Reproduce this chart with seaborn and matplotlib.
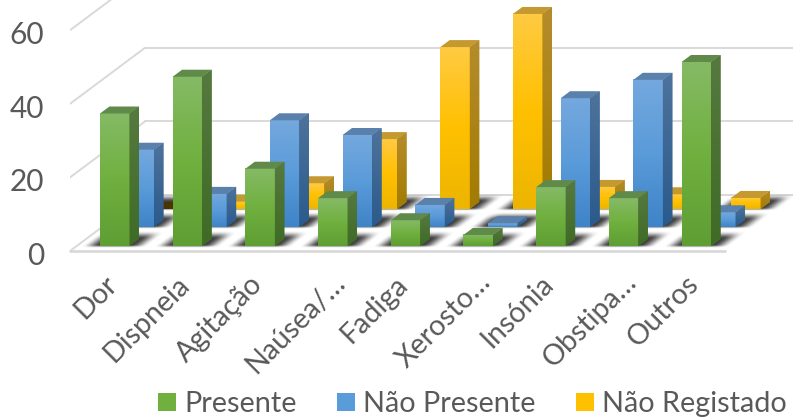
import numpy as np
import pandas as pd
import matplotlib
matplotlib.use("Agg")
import matplotlib.pyplot as plt
import matplotlib.transforms as mtrans
from matplotlib.colors import LinearSegmentedColormap
from matplotlib.patches import Patch
import seaborn as sns

categories = ["Dor", "Dispneia", "Agitação", "Naúsea/…", "Fadiga", "Xerosto…", "Insónia", "Obstipa…", "Outros"]
presente = [36, 46, 21, 13, 7, 3, 16, 13, 50]
nao_presente = [21, 9, 29, 25, 6, 1, 35, 40, 4]
nao_registado = [0, 2, 7, 19, 44, 53, 6, 4, 3]
series_names = ["Presente", "Não Presente", "Não Registado"]
y_ticks = [0, 20, 40, 60]

sns.set_theme(style="white")
plt.rcParams["font.family"] = ["Lato", "DejaVu Sans"]
TXT = "#595959"
GRID = "#d9d9d9"

W, H = 793, 418
PX_X, PX_Y = 72.7, 3.68          # pixels per category / per value
fig = plt.figure(figsize=(W / 100, H / 100), dpi=100, facecolor="white")
ax = fig.add_axes([70 / W, (H - 251) / H, (W - 70) / W, 251 / H])
ax.set_facecolor("none")
for s in ax.spines.values():
    s.set_visible(False)

xlim = (-(114.75 - 70) / PX_X, (W - 114.75) / PX_X)
ylim = (0, 251 / PX_Y)


def px_shift(dx, dy):
    return ax.transData + mtrans.Affine2D().translate(dx, dy)


# depth layout: back to front
styles = {
    "Não Registado": dict(off=(49.5, 42), grad=["#FFCA42", "#FFC000", "#EDB500"], side=["#B58C2C", "#A27B00"], top="#C49A30"),
    "Não Presente": dict(off=(24.5, 24), grad=["#74A8DE", "#5A9BD9", "#3F84C8"], side=["#4E739C", "#2A5A8C"], top="#5A80AC"),
    "Presente": dict(off=(0, 5), grad=["#85BA65", "#70B03F", "#5F9E33"], side=["#56793F", "#3F6B26"], top="#5F8A4A"),
}
values = {"Presente": presente, "Não Presente": nao_presente, "Não Registado": nao_registado}

DX, DY = 9.4 / PX_X, 7 / PX_Y    # oblique depth of a bar

# walls and floor
back = (75, 56)
xl, xr = xlim
x_front_end = (725 - 114.75) / PX_X
ax.fill([xl, x_front_end, xr + 1, xl + back[0] / PX_X], [0, 0, back[1] / PX_Y, back[1] / PX_Y],
        color="white", zorder=0)
for t in y_ticks:
    ax.plot([xl, xl + back[0] / PX_X], [t, t + back[1] / PX_Y], color=GRID, lw=1.4, zorder=1)
    ax.plot([xl + back[0] / PX_X, xr], [t + back[1] / PX_Y] * 2, color=GRID, lw=1.4, zorder=1)
ax.plot([xl, x_front_end], [0, 0], color=GRID, lw=2.0, zorder=1, clip_on=False)


def smooth(v):
    v = np.clip(v, 0, 1)
    return v * v * (3 - 2 * v)


def draw_shadow(bar_x, bar_w, tr, z):
    w_px = bar_w * PX_X
    xs = np.arange(-26, w_px + 50, 1.0)
    ys = np.arange(-3, 20, 0.5)
    gx, gy = np.meshgrid(xs, ys)
    u = gx - gy * 1.35
    fx = smooth((u + 19) / 18) * smooth((w_px + 18 - u) / 18)
    fy = smooth((gy + 2) / 3.0) * smooth((15 - gy) / 8)
    rgba = np.zeros(gx.shape + (4,))
    rgba[..., :3] = 0.16
    rgba[..., 3] = 0.9 * fx * fy
    ax.imshow(rgba, origin="lower", aspect="auto", interpolation="bilinear", transform=tr, zorder=z, clip_on=False,
              extent=(bar_x - 26 / PX_X, bar_x + bar_w + 50 / PX_X, -3 / PX_Y, 20 / PX_Y))


for k, name in enumerate(["Não Registado", "Não Presente", "Presente"]):
    st = styles[name]
    df = pd.DataFrame({"cat": categories, "val": values[name]})
    sns.barplot(data=df, x="cat", y="val", order=categories, color=st["grad"][1], saturation=1,
                width=0.406, ax=ax, zorder=10 + 10 * k, errorbar=None, linewidth=0)
    tr = px_shift(st["off"][0], st["off"][1])
    front = LinearSegmentedColormap.from_list("f", st["grad"])
    sidec = LinearSegmentedColormap.from_list("s", st["side"])
    grad = np.linspace(0, 1, 64)[:, None]
    for bar in ax.containers[-1]:
        x, w, h = bar.get_x(), bar.get_width(), bar.get_height()
        bar.set_transform(tr)
        draw_shadow(x, w, tr, 5 + 10 * k)
        z = 11 + 10 * k
        if h > 0:
            ax.imshow(grad, cmap=front, origin="upper", aspect="auto", extent=(x, x + w, 0, h),
                      transform=tr, zorder=z)
            side = ax.fill([x + w, x + w + DX, x + w + DX, x + w], [0, DY, h + DY, h],
                           color=st["side"][1], lw=0, transform=tr, zorder=z)[0]
            im = ax.imshow(grad, cmap=sidec, origin="upper", aspect="auto",
                           extent=(x + w, x + w + DX, 0, h + DY), transform=tr, zorder=z + 1)
            im.set_clip_path(side)
        top_color = st["top"] if h > 0 else "#4A3500"
        ax.fill([x, x + DX, x + w + DX, x + w], [h, h + DY, h + DY, h], color=top_color, lw=0,
                transform=tr, zorder=z + 1)

ax.set_xlim(*xlim)
ax.set_ylim(*ylim)
ax.set_xlabel("")
ax.set_ylabel("")
ax.set_yticks(y_ticks)
ax.set_xticks(range(len(categories)))
ax.set_xticklabels(categories)
ax.tick_params(axis="y", length=0, pad=18.5, labelsize=21.5, labelcolor=TXT)
ax.tick_params(axis="x", length=0, pad=21, labelsize=20.6, labelcolor=TXT)
plt.setp(ax.get_xticklabels(), rotation=45, ha="right", va="center", rotation_mode="anchor")
for lab in ax.get_xticklabels():
    shift = (8.5, 2.5) if lab.get_text().endswith("…") else (-2, 0)
    lab.set_transform(lab.get_transform() + mtrans.Affine2D().translate(*shift))
for lab in ax.get_yticklabels():
    lab.set_transform(lab.get_transform() + mtrans.Affine2D().translate(0, -2.5))

handles = [Patch(facecolor=styles[n]["grad"][1], edgecolor="none", label=n) for n in series_names]
fig.legend(handles=handles, loc="lower left", bbox_to_anchor=(152 / W, -5 / H), ncol=3, frameon=False,
           fontsize=20.8, labelcolor=TXT, handlelength=0.62, handleheight=0.62,
           handletextpad=0.3, columnspacing=1.38, borderpad=0.2, borderaxespad=0)

fig.savefig("out.png", dpi=100, facecolor="white")
